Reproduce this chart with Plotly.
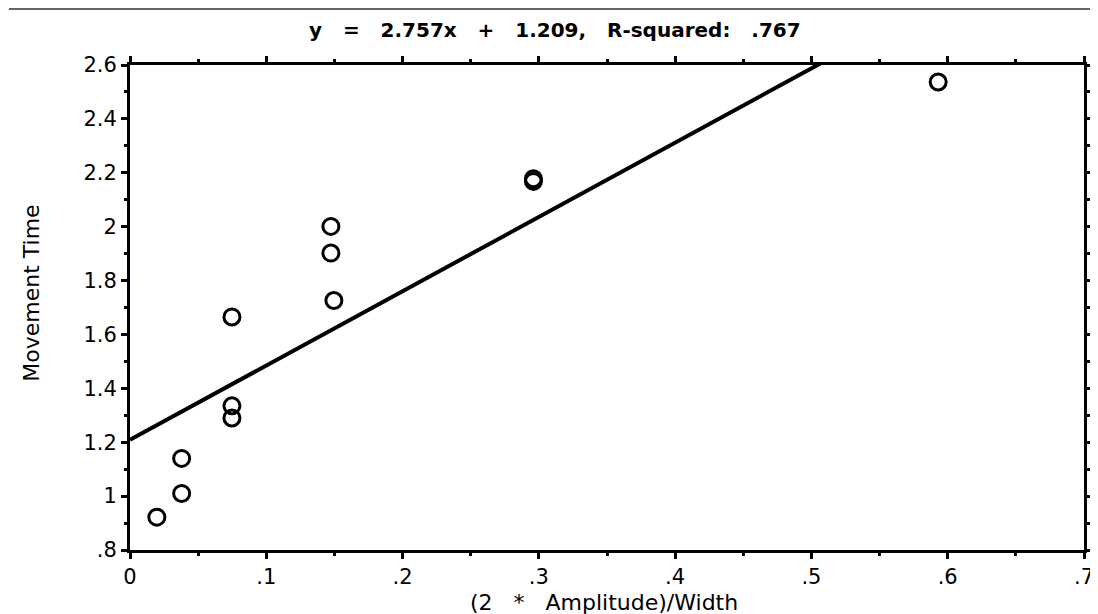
import plotly.graph_objects as go

# Data
ratio = [0.0197, 0.0379, 0.0379, 0.0748, 0.0748, 0.0748, 0.1474, 0.1474, 0.1496, 0.2960, 0.2960, 0.5930]
movement_time = [0.922, 1.010, 1.140, 1.290, 1.335, 1.665, 2.001, 1.902, 1.726, 2.168, 2.178, 2.537]
slope = 2.757
intercept = 1.209
r_squared = ".767"

x_tickvals = [0, 0.1, 0.2, 0.3, 0.4, 0.5, 0.6, 0.7]
x_ticktext = ["0", ".1", ".2", ".3", ".4", ".5", ".6", ".7"]
y_tickvals = [0.8, 1.0, 1.2, 1.4, 1.6, 1.8, 2.0, 2.2, 2.4, 2.6]
y_ticktext = [".8", "1", "1.2", "1.4", "1.6", "1.8", "2", "2.2", "2.4", "2.6"]

x_range = [0, 0.7]
y_range = [0.8, 2.6]

FONT = "DejaVu Sans"
NB = "\u00a0"

fit_x = [x_range[0], x_range[1]]
fit_y = [intercept + slope * v for v in fit_x]

fig = go.Figure()
fig.add_trace(go.Scatter(x=fit_x, y=fit_y, mode="lines",
                         line=dict(color="black", width=4), showlegend=False,
                         hoverinfo="skip"))
fig.add_trace(go.Scatter(x=ratio, y=movement_time, mode="markers",
                         marker=dict(symbol="circle-open", size=16, color="black",
                                     line=dict(width=3)),
                         showlegend=False, cliponaxis=False))

axis_common = dict(showline=True, linecolor="black", linewidth=3, mirror="ticks",
                   ticks="outside", ticklen=6, tickwidth=2.5, tickcolor="black",
                   showgrid=False, zeroline=False,
                   tickfont=dict(family=FONT, size=21, color="black"))

fig.update_xaxes(range=x_range, tickmode="array", tickvals=x_tickvals, ticktext=x_ticktext,
                 minor=dict(tickmode="linear", tick0=0, dtick=0.05, ticks="outside",
                            ticklen=3, tickwidth=2.5, tickcolor="black"),
                 **axis_common)
fig.update_yaxes(range=y_range, tickmode="array", tickvals=y_tickvals, ticktext=y_ticktext,
                 minor=dict(tickmode="linear", tick0=0.8, dtick=0.1, ticks="outside",
                            ticklen=3, tickwidth=2.5, tickcolor="black"),
                 **axis_common)

title_text = (f"y{NB*3}={NB*3}{slope:.3f}x{NB*3}+{NB*3}{intercept:.3f},{NB*3}"
              f"R-squared:{NB*3}{r_squared}")

L, R, T, B = 122, 15, 57, 72
W, H = 1098, 614
pw, ph = W - L - R, H - T - B

def px_x(px):
    return (px - L) / pw

def px_y(py):
    return (H - B - py) / ph

fig.update_layout(
    width=W, height=H,
    margin=dict(l=L, r=R, t=T, b=B),
    paper_bgcolor="white", plot_bgcolor="white",
    annotations=[
        dict(text=f"<b>{title_text}</b>", x=px_x(550), y=px_y(22), xref="paper", yref="paper",
             xanchor="center", yanchor="middle", showarrow=False,
             font=dict(family=FONT, size=20, color="black")),
        dict(text=f"(2{NB*3}*{NB*3}Amplitude)/Width", x=px_x(599), y=px_y(594),
             xref="paper", yref="paper", xanchor="center", yanchor="middle",
             showarrow=False, font=dict(family=FONT, size=22, color="black")),
        dict(text="Movement Time", x=px_x(22), y=px_y(285), xref="paper", yref="paper",
             xanchor="center", yanchor="middle", textangle=-90, showarrow=False,
             font=dict(family=FONT, size=22, color="black")),
    ],
    shapes=[
        dict(type="line", xref="paper", yref="paper", x0=px_x(0), x1=px_x(W),
             y0=px_y(1), y1=px_y(1), line=dict(color="#666666", width=2)),
    ],
)

fig.write_html("out.html")
